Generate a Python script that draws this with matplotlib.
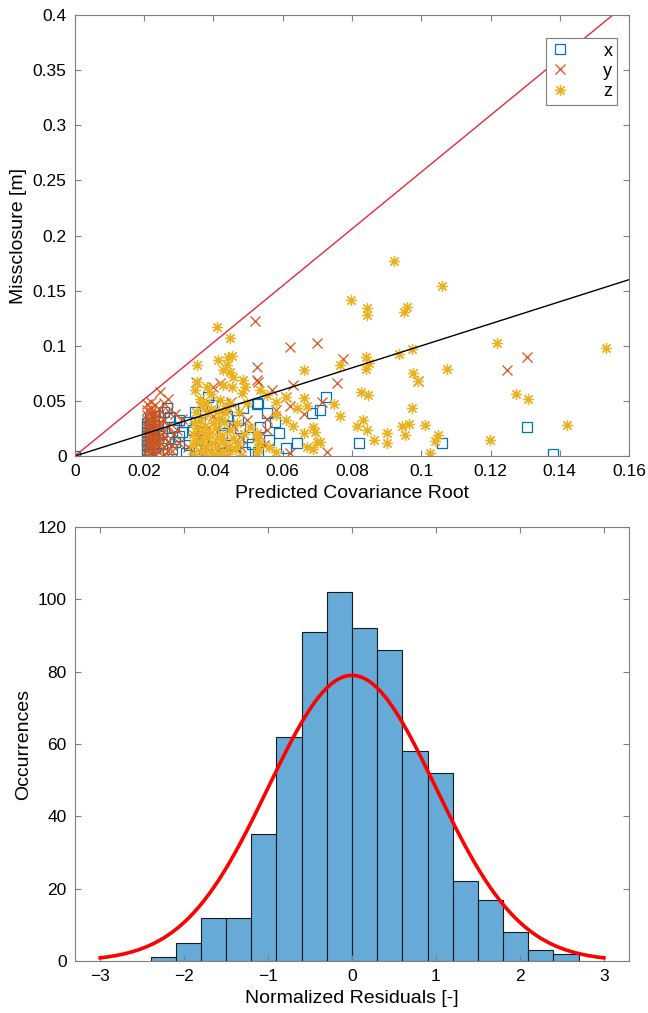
import numpy as np
import matplotlib
matplotlib.use("Agg")
import matplotlib.pyplot as plt
from matplotlib.ticker import FuncFormatter

plt.rcParams['font.family'] = ['Liberation Sans', 'DejaVu Sans']

# ---- scatter data: (predicted covariance root, misclosure) per axis ----
pts_x = [
    (0.000, 0.000),
    (0.0208, 0.002), (0.0208, 0.006), (0.0208, 0.010), (0.0208, 0.014), (0.0208, 0.018),
    (0.0208, 0.022), (0.0208, 0.026), (0.0208, 0.030),
    (0.0218, 0.004), (0.0218, 0.012), (0.0218, 0.020), (0.0218, 0.028), (0.0218, 0.034),
    (0.0229, 0.008), (0.0229, 0.016), (0.0229, 0.024), (0.0229, 0.031),
    (0.0240, 0.003), (0.0240, 0.019), (0.0240, 0.027), (0.0240, 0.036),
    (0.0252, 0.011), (0.0252, 0.022), (0.0258, 0.040),
    (0.0266, 0.044), (0.0274, 0.035), (0.0300, 0.033), (0.0320, 0.031), (0.0310, 0.022),
    (0.0320, 0.003), (0.0347, 0.000), (0.0290, 0.013), (0.0280, 0.006), (0.0300, 0.018),
    (0.0330, 0.010),
    (0.0384, 0.054), (0.0396, 0.046), (0.0347, 0.040), (0.0360, 0.031), (0.0340, 0.024),
    (0.0425, 0.021), (0.0430, 0.028), (0.0448, 0.010), (0.0470, 0.033), (0.0477, 0.025),
    (0.0500, 0.017), (0.0490, 0.004), (0.0485, 0.044), (0.0526, 0.047), (0.0534, 0.026),
    (0.0529, 0.048), (0.0555, 0.039), (0.0578, 0.031), (0.0590, 0.021), (0.0610, 0.007),
    (0.0530, 0.004), (0.0685, 0.039), (0.0708, 0.042), (0.0725, 0.054), (0.0820, 0.012),
    (0.1060, 0.012), (0.1305, 0.026), (0.1380, 0.002),
    (0.0370, 0.015), (0.0400, 0.008), (0.0440, 0.036), (0.0460, 0.002), (0.0380, 0.002),
    (0.0420, 0.012), (0.0510, 0.011), (0.0560, 0.015), (0.0640, 0.012), (0.0270, 0.016),
    (0.0285, 0.026), (0.0350, 0.006),
]

pts_y = [
    (0.0208, 0.001), (0.0208, 0.005), (0.0208, 0.009), (0.0208, 0.013), (0.0208, 0.017),
    (0.0208, 0.021), (0.0208, 0.025), (0.0208, 0.029), (0.0208, 0.033), (0.0208, 0.037),
    (0.0208, 0.042), (0.0208, 0.047),
    (0.0220, 0.003), (0.0220, 0.008), (0.0220, 0.012), (0.0220, 0.016), (0.0220, 0.020),
    (0.0220, 0.024), (0.0220, 0.028), (0.0220, 0.032), (0.0220, 0.036), (0.0220, 0.040),
    (0.0220, 0.044), (0.0220, 0.049),
    (0.0232, 0.002), (0.0232, 0.006), (0.0232, 0.011), (0.0232, 0.015), (0.0232, 0.019),
    (0.0232, 0.023), (0.0232, 0.027), (0.0232, 0.031), (0.0232, 0.035), (0.0232, 0.039),
    (0.0232, 0.046),
    (0.0244, 0.004), (0.0244, 0.010), (0.0244, 0.014), (0.0244, 0.018), (0.0244, 0.026),
    (0.0244, 0.030), (0.0244, 0.038), (0.0244, 0.043), (0.0245, 0.058),
    (0.0256, 0.002), (0.0256, 0.008), (0.0256, 0.017), (0.0256, 0.022), (0.0256, 0.033),
    (0.0256, 0.048),
    (0.0268, 0.005), (0.0268, 0.013), (0.0268, 0.027), (0.0268, 0.041), (0.0270, 0.052),
    (0.0280, 0.010), (0.0285, 0.020), (0.0294, 0.024), (0.0300, 0.012), (0.0280, 0.005),
    (0.0327, 0.008), (0.0310, 0.034), (0.0290, 0.038),
    (0.0520, 0.1225), (0.0620, 0.099), (0.0699, 0.103), (0.0774, 0.088), (0.0757, 0.066),
    (0.0526, 0.081), (0.0526, 0.069), (0.0528, 0.067), (0.0350, 0.067), (0.0400, 0.063),
    (0.0420, 0.066), (0.0630, 0.064), (0.0570, 0.060), (0.0610, 0.054), (0.0620, 0.045),
    (0.0580, 0.042), (0.0555, 0.034), (0.0497, 0.033), (0.0457, 0.027), (0.0535, 0.018),
    (0.0545, 0.010), (0.0728, 0.004), (0.0555, 0.024), (0.0477, 0.017), (0.0440, 0.042),
    (0.0450, 0.049), (0.0400, 0.036), (0.0360, 0.017), (0.0365, 0.045), (0.0713, 0.049),
    (0.0990, 0.068), (0.1305, 0.090), (0.1248, 0.078), (0.0620, 0.003), (0.0480, 0.008),
    (0.0420, 0.005), (0.0660, 0.038), (0.0385, 0.025),
]

pts_z = [
    (0.000, 0.000),
    (0.0921, 0.177), (0.1060, 0.154), (0.0797, 0.142), (0.0843, 0.134), (0.0843, 0.128),
    (0.0959, 0.135), (0.0950, 0.131), (0.0840, 0.090), (0.0850, 0.084), (0.0840, 0.079),
    (0.0765, 0.083), (0.0936, 0.093), (0.0973, 0.097), (0.1074, 0.079), (0.0976, 0.075),
    (0.0990, 0.068), (0.0826, 0.058), (0.0846, 0.055), (0.0748, 0.047), (0.0765, 0.036),
    (0.0973, 0.044), (0.0832, 0.033), (0.0815, 0.027), (0.0843, 0.024), (0.0900, 0.021),
    (0.0945, 0.027), (0.0965, 0.029), (0.1010, 0.028), (0.0953, 0.019), (0.0864, 0.015),
    (0.0900, 0.012), (0.1048, 0.019), (0.1040, 0.014), (0.1025, 0.003), (0.0693, 0.022),
    (0.0707, 0.013), (0.0687, 0.006),
    (0.1219, 0.1025), (0.1534, 0.098), (0.1274, 0.056), (0.1308, 0.052), (0.1420, 0.028),
    (0.1199, 0.0145),
    (0.0410, 0.117), (0.0448, 0.107), (0.0352, 0.083), (0.0413, 0.087), (0.0442, 0.090),
    (0.0453, 0.091), (0.0439, 0.083), (0.0428, 0.078), (0.0448, 0.076), (0.0456, 0.072),
    (0.0660, 0.078), (0.0352, 0.067), (0.0347, 0.060), (0.0380, 0.063), (0.0428, 0.064),
    (0.0453, 0.063), (0.0486, 0.069), (0.0490, 0.063), (0.0482, 0.057), (0.0535, 0.060),
    (0.0554, 0.055), (0.0660, 0.053), (0.0580, 0.049), (0.0610, 0.054), (0.0420, 0.051),
    (0.0448, 0.048), (0.0497, 0.048), (0.0640, 0.044), (0.0670, 0.045), (0.0580, 0.037),
    (0.0610, 0.033), (0.0630, 0.027), (0.0660, 0.021), (0.0688, 0.026), (0.0699, 0.013),
    (0.0670, 0.008), (0.0560, 0.008), (0.0580, 0.004), (0.0535, 0.012), (0.0505, 0.026),
    (0.0526, 0.021), (0.0526, 0.016), (0.0529, 0.007), (0.0526, 0.003),
    (0.0340, 0.002), (0.0340, 0.010), (0.0340, 0.020), (0.0345, 0.030), (0.0350, 0.040),
    (0.0348, 0.015), (0.0352, 0.025),
    (0.0360, 0.005), (0.0362, 0.013), (0.0365, 0.022), (0.0362, 0.033), (0.0368, 0.045),
    (0.0360, 0.052),
    (0.0375, 0.002), (0.0378, 0.009), (0.0380, 0.017), (0.0375, 0.027), (0.0382, 0.038),
    (0.0378, 0.048),
    (0.0392, 0.004), (0.0395, 0.012), (0.0390, 0.021), (0.0398, 0.030), (0.0393, 0.043),
    (0.0392, 0.056),
    (0.0408, 0.001), (0.0410, 0.008), (0.0412, 0.016), (0.0406, 0.025), (0.0412, 0.034),
    (0.0415, 0.041),
    (0.0425, 0.004), (0.0428, 0.013), (0.0425, 0.019), (0.0430, 0.031), (0.0433, 0.039),
    (0.0442, 0.002), (0.0445, 0.009), (0.0448, 0.024), (0.0440, 0.045), (0.0455, 0.016),
    (0.0462, 0.006), (0.0468, 0.030), (0.0470, 0.012), (0.0475, 0.040), (0.0480, 0.001),
    (0.0488, 0.020),
]

# bound lines: 1 sigma and 99% (2.576 sigma)
line_x = [0.0, 0.16]
slope_1s = 1.0
slope_99 = 2.576

# ---- histogram of normalized residuals ----
bin_edges = [-2.4, -2.1, -1.8, -1.5, -1.2, -0.9, -0.6, -0.3, 0.0,
             0.3, 0.6, 0.9, 1.2, 1.5, 1.8, 2.1, 2.4, 2.7]
counts = [1, 5, 12, 12, 35, 62, 91, 102, 92, 86, 58, 52, 22, 17, 8, 3, 2]
fit_mu = 0.0
fit_sigma = 1.0

c_x = '#0072BD'
c_y = '#D95319'
c_z = '#EDB120'
spine_c = '#7f7f7f'


def matlab_axes(ax):
    for s in ax.spines.values():
        s.set_color(spine_c)
        s.set_linewidth(0.8)
    ax.tick_params(direction='in', top=True, right=True, length=4,
                   color=spine_c, labelsize=12.5, labelcolor='black', pad=6)


fig = plt.figure(figsize=(6.48, 10.13), dpi=100)

# top: misclosure vs predicted covariance root
ax1 = fig.add_axes([0.1157, 0.5498, 0.855, 0.4353])
xs, ys = zip(*pts_x)
ax1.plot(xs, ys, linestyle='none', marker='s', markersize=6.5, mfc='none',
         mec=c_x, mew=0.9, label='x')
xs, ys = zip(*pts_y)
ax1.plot(xs, ys, linestyle='none', marker='x', markersize=6.5, color=c_y,
         mew=0.9, label='y')
xs, ys = zip(*pts_z)
ax1.plot(xs, ys, linestyle='none', marker=(8, 2, 0), markersize=8, color=c_z,
         mew=0.9, label='z')
lx = np.array(line_x)
ax1.plot(lx, slope_99 * lx, color='#e8283a', lw=1.0)
ax1.plot(lx, slope_1s * lx, color='black', lw=1.0)
ax1.set_xlim(0, 0.16)
ax1.set_ylim(0, 0.4)
ax1.set_xticks(np.arange(0, 0.161, 0.02))
ax1.set_yticks(np.arange(0, 0.401, 0.05))
fmt = FuncFormatter(lambda v, p: '%g' % round(v, 4))
ax1.xaxis.set_major_formatter(fmt)
ax1.yaxis.set_major_formatter(fmt)
ax1.set_xlabel('Predicted Covariance Root', fontsize=14)
ax1.set_ylabel('Missclosure [m]', fontsize=14)
matlab_axes(ax1)
leg = ax1.legend(loc='upper right', bbox_to_anchor=(0.978, 0.948), fontsize=13,
                 markerfirst=True, handlelength=1.0, handletextpad=1.9,
                 borderpad=0.25, borderaxespad=0, labelspacing=0.18,
                 fancybox=False, framealpha=1)
leg.get_frame().set_edgecolor(spine_c)
leg.get_frame().set_linewidth(0.8)

# bottom: histogram with fitted normal curve
ax2 = fig.add_axes([0.1157, 0.0513, 0.855, 0.4284])
edges = np.array(bin_edges)
ax2.bar(edges[:-1], counts, width=np.diff(edges), align='edge',
        color='#66aad8', edgecolor='#1a1a1a', linewidth=0.8)
bw = edges[1] - edges[0]
cx = np.linspace(-3, 3, 200)
cy = sum(counts) * bw * np.exp(-0.5 * ((cx - fit_mu) / fit_sigma) ** 2) / (fit_sigma * np.sqrt(2 * np.pi))
ax2.plot(cx, cy, color='#ff0000', lw=2.6)
ax2.set_xlim(-3.3, 3.3)
ax2.set_ylim(0, 120)
ax2.set_xticks(np.arange(-3, 4, 1))
ax2.set_yticks(np.arange(0, 121, 20))
ax2.set_xlabel('Normalized Residuals [-]', fontsize=14)
ax2.set_ylabel('Occurrences', fontsize=14)
matlab_axes(ax2)

fig.savefig('out.png', dpi=100)
